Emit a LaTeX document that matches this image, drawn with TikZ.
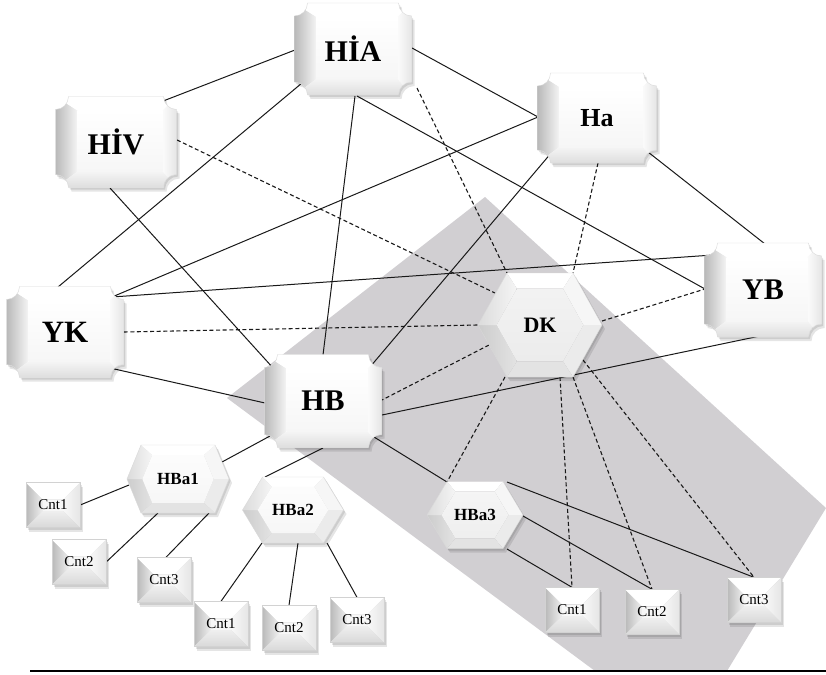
\documentclass[tikz,border=0pt]{standalone}
\usepackage{fontspec}
\setmainfont{Liberation Serif}
\usetikzlibrary{calc}
\pgfdeclarelayer{bg}
\pgfdeclarelayer{lines}
\pgfsetlayers{bg,lines,main}
\definecolor{grayreg}{RGB}{209,207,210}
\tikzset{
  sl/.style={draw=black!90,line width=1pt},
  dl/.style={draw=black!90,line width=1.1pt,dash pattern=on 4pt off 2.6pt},
  lbl/.style={inner sep=0pt,text=black}
}
% plaque: name, cx, cy, w, h, text
\newcommand\plaque[6]{%
\pgfmathsetmacro\xa{#2-#4/2}\pgfmathsetmacro\xb{#2+#4/2}%
\pgfmathsetmacro\ya{#3-#5/2}\pgfmathsetmacro\yb{#3+#5/2}%
\def\PP{(\xa+13,\ya) -- (\xb-13,\ya) .. controls (\xb-13,\ya+7.2) and (\xb-7.2,\ya+13) .. (\xb,\ya+13) -- (\xb,\yb-13) .. controls (\xb-7.2,\yb-13) and (\xb-13,\yb-7.2) .. (\xb-13,\yb) -- (\xa+13,\yb) .. controls (\xa+13,\yb-7.2) and (\xa+7.2,\yb-13) .. (\xa,\yb-13) -- (\xa,\ya+13) .. controls (\xa+7.2,\ya+13) and (\xa+13,\ya+7.2) .. (\xa+13,\ya) -- cycle}%
\fill[black,opacity=0.10,shift={(3,4)}] \PP;
\fill[black,opacity=0.10,shift={(1.5,2)}] \PP;
\begin{scope}
\clip \PP;
\fill[white] \PP;
\shade[left color=gray!55,right color=gray!8] (\xa,\ya) -- (\xa+22,\ya+14) -- (\xa+22,\yb-16) -- (\xa,\yb) -- cycle;
\fill[white] (\xa,\ya) -- (\xb,\ya) -- (\xb-14,\ya+14) -- (\xa+22,\ya+14) -- cycle;
\shade[left color=gray!3,right color=gray!20] (\xb,\ya) -- (\xb,\yb) -- (\xb-14,\yb-16) -- (\xb-14,\ya+14) -- cycle;
\shade[top color=gray!8,bottom color=gray!26] (\xa,\yb) -- (\xa+22,\yb-16) -- (\xb-14,\yb-16) -- (\xb,\yb) -- cycle;
\shade[top color=white,bottom color=gray!7] (\xa+22,\ya+14) rectangle (\xb-14,\yb-16);
\end{scope}
\draw[gray!30,line width=0.4pt] \PP;
\node[lbl,minimum width=#4pt,minimum height=#5pt] (#1) at (#2,#3) {#6};
}
% hexagon: name, cx, cy, w, h, inset, text, inner top, inner bottom
\newcommand\hexa[9]{%
\pgfmathsetmacro\hw{#4/2}\pgfmathsetmacro\hh{#5/2}%
\pgfmathsetmacro\oL{#2-\hw}\pgfmathsetmacro\oR{#2+\hw}%
\pgfmathsetmacro\oTL{#2-\hw+#6}\pgfmathsetmacro\oTR{#2+\hw-#6}%
\pgfmathsetmacro\oT{#3-\hh}\pgfmathsetmacro\oB{#3+\hh}%
\pgfmathsetmacro\iL{#2-0.7*\hw}\pgfmathsetmacro\iR{#2+0.7*\hw}%
\pgfmathsetmacro\iTL{#2-0.7*(\hw-#6)}\pgfmathsetmacro\iTR{#2+0.7*(\hw-#6)}%
\pgfmathsetmacro\iT{#3-0.7*\hh}\pgfmathsetmacro\iB{#3+0.7*\hh}%
\def\HP{(\oL,#3) -- (\oTL,\oT) -- (\oTR,\oT) -- (\oR,#3) -- (\oTR,\oB) -- (\oTL,\oB) -- cycle}%
\fill[black,opacity=0.10,shift={(3,4)}] \HP;
\fill[black,opacity=0.10,shift={(1.5,2)}] \HP;
\fill[white] (\oTL,\oT) -- (\oTR,\oT) -- (\iTR,\iT) -- (\iTL,\iT) -- cycle;
\fill[gray!7] (\oTR,\oT) -- (\oR,#3) -- (\iR,#3) -- (\iTR,\iT) -- cycle;
\fill[gray!16] (\oR,#3) -- (\oTR,\oB) -- (\iTR,\iB) -- (\iR,#3) -- cycle;
\fill[gray!22] (\oTR,\oB) -- (\oTL,\oB) -- (\iTL,\iB) -- (\iTR,\iB) -- cycle;
\shade[left color=gray!40,right color=gray!22] (\oTL,\oB) -- (\oL,#3) -- (\iL,#3) -- (\iTL,\iB) -- cycle;
\shade[left color=gray!28,right color=gray!8] (\oL,#3) -- (\oTL,\oT) -- (\iTL,\iT) -- (\iL,#3) -- cycle;
\shade[top color=gray!#8,bottom color=gray!#9] (\iL,#3) -- (\iTL,\iT) -- (\iTR,\iT) -- (\iR,#3) -- (\iTR,\iB) -- (\iTL,\iB) -- cycle;
\draw[gray!30,line width=0.4pt] \HP;
\node[lbl,minimum width=#4pt,minimum height=#5pt] (#1) at (#2,#3) {#7};
}
% box: name, cx, cy, text
\newcommand\cntbox[4]{%
\pgfmathsetmacro\xa{#2-27}\pgfmathsetmacro\xb{#2+27}%
\pgfmathsetmacro\ya{#3-22.5}\pgfmathsetmacro\yb{#3+22.5}%
\fill[black,opacity=0.10] (\xa+3,\ya+4) rectangle (\xb+3,\yb+4);
\fill[black,opacity=0.10] (\xa+1.5,\ya+2) rectangle (\xb+1.5,\yb+2);
\shade[left color=gray!55,right color=gray!12] (\xa,\ya) -- (\xa+17,\ya+17) -- (\xa+17,\yb-17) -- (\xa,\yb) -- cycle;
\fill[white] (\xa,\ya) -- (\xb,\ya) -- (\xb-17,\ya+17) -- (\xa+17,\ya+17) -- cycle;
\shade[left color=gray!5,right color=gray!20] (\xb,\ya) -- (\xb,\yb) -- (\xb-17,\yb-17) -- (\xb-17,\ya+17) -- cycle;
\shade[top color=gray!12,bottom color=gray!30] (\xa,\yb) -- (\xa+17,\yb-17) -- (\xb-17,\yb-17) -- (\xb,\yb) -- cycle;
\fill[gray!6] (\xa+17,\ya+17) rectangle (\xb-17,\yb-17);
\draw[gray!35,line width=0.4pt] (\xa,\ya) rectangle (\xb,\yb);
\node[lbl,minimum width=54pt,minimum height=45pt,font=\fontsize{15}{15}\selectfont] (#1) at (#2,#3) {#4};
}
\newcommand\bigf[1]{\fontsize{#1}{#1}\selectfont\bfseries}
\begin{document}
\begin{tikzpicture}[x=1pt,y=-1pt]
\useasboundingbox (0,0) rectangle (826,674);
\begin{pgfonlayer}{bg}
\fill[white] (0,0) rectangle (826,674);
\fill[grayreg] (485,197) -- (826,508) -- (727,671) -- (595,671) -- (227,398) -- cycle;
\end{pgfonlayer}
\coordinate (lineL) at (30,671);
\coordinate (lineR) at (826,671);
\draw[black,line width=1.6pt] (lineL) -- (lineR);
% nodes
\plaque{HIA}{353}{49}{117}{92}{\bigf{30}HİA}
\plaque{HIV}{116}{142}{121}{91}{\bigf{30}HİV}
\plaque{Ha}{597}{118}{119}{90}{\bigf{26}Ha}
\plaque{YK}{65}{332}{117}{91}{\bigf{31}YK}
\plaque{YB}{763}{290}{117}{94}{\bigf{30}YB}
\plaque{HB}{323}{401}{117}{93}{\bigf{30}HB}
\hexa{DK}{540}{325}{124}{104}{29}{\bigf{22}DK}{10}{15}
\hexa{HBa1}{178}{479}{102}{68}{14}{\bigf{17}HBa1}{2}{7}
\hexa{HBa2}{293}{510}{101}{66}{20}{\bigf{17}HBa2}{2}{7}
\hexa{HBa3}{475}{515}{96}{67}{20}{\bigf{17}HBa3}{8}{13}
\cntbox{c11}{53}{505}{Cnt1}
\cntbox{c12}{79}{562}{Cnt2}
\cntbox{c13}{164}{580}{Cnt3}
\cntbox{c21}{221}{624}{Cnt1}
\cntbox{c22}{289}{628}{Cnt2}
\cntbox{c23}{357}{620}{Cnt3}
\cntbox{c31}{572}{610}{Cnt1}
\cntbox{c32}{652}{612}{Cnt2}
\cntbox{c33}{754}{600}{Cnt3}
% connectors
\begin{pgfonlayer}{lines}
\draw[sl] ($(HIV)+(42,-39)$) -- ($(HIA)+(-58,1)$);
\draw[sl] ($(HIA)+(-51,34)$) -- ($(YK)+(-7,-45)$);
\draw[sl] ($(HIA)+(2,47)$) -- ($(HB)+(0,-46)$);
\draw[sl] ($(HIA)+(4,47)$) -- ($(YB)+(-58,-1)$);
\draw[sl] ($(HIA)+(59,-1)$) -- ($(Ha)+(-59,-1)$);
\draw[sl] ($(HIV)+(-6,46)$) -- ($(HB)+(-49,-32)$);
\draw[sl] ($(Ha)+(-45,34)$) -- ($(HB)+(47,-34)$);
\draw[sl] ($(Ha)+(51,34)$) -- ($(YB)+(2,-46)$);
\draw[sl] ($(Ha)+(-59,-1)$) -- ($(YK)+(47,-35)$);
\draw[sl] ($(YK)+(47,-35)$) -- ($(YB)+(-50,-35)$);
\draw[sl] ($(YK)+(45,36)$) -- ($(HB)+(-58,2)$);
\draw[sl] ($(HB)+(59,14)$) -- ($(YB)+(-3,46)$);
\draw[sl] ($(HB)+(-53,35)$) -- ($(HBa1)+(44,-17)$);
\draw[sl] ($(HB)+(0,47)$) -- ($(HBa2)+(-28,-33)$);
\draw[sl] ($(HB)+(51,36)$) -- ($(HBa3)+(-28,-33)$);
\draw[sl] ($(HBa1)+(-49,6)$) -- (c11.east);
\draw[sl] ($(HBa1)+(-20,34)$) -- (c12.east);
\draw[sl] ($(HBa1)+(31,34)$) -- ($(c13.north)+(2,0)$);
\draw[sl] ($(HBa2)+(-31,33)$) -- (c21.north);
\draw[sl] ($(HBa2)+(5,33)$) -- (c22.north);
\draw[sl] ($(HBa2)+(34,33)$) -- (c23.north);
\draw[sl] ($(HBa3)+(32,34)$) -- (c31.north);
\draw[sl] ($(HBa3)+(48,1)$) -- (c32.north);
\draw[sl] ($(HBa3)+(32,-33)$) -- (c33.north);
\draw[dl] ($(HIV)+(61,-2)$) -- ($(DK)+(-45,-32)$);
\draw[dl] ($(HIA)+(64,39)$) -- ($(DK)+(-33,-52)$);
\draw[dl] ($(Ha)+(1,45)$) -- ($(DK)+(33,-52)$);
\draw[dl] (YK.east) -- (DK.west);
\draw[dl] ($(DK)+(62,-4)$) -- ($(YB)+(-58,-1)$);
\draw[dl] ($(DK)+(-51,20)$) -- ($(HB)+(59,-1)$);
\draw[dl] ($(DK)+(-35,52)$) -- ($(HBa3)+(-28,-33)$);
\draw[dl] ($(DK)+(20,52)$) -- (c31.north);
\draw[dl] ($(DK)+(33,52)$) -- (c32.north);
\draw[dl] ($(DK)+(43,35)$) -- (c33.north);
\end{pgfonlayer}
\end{tikzpicture}
\end{document}
